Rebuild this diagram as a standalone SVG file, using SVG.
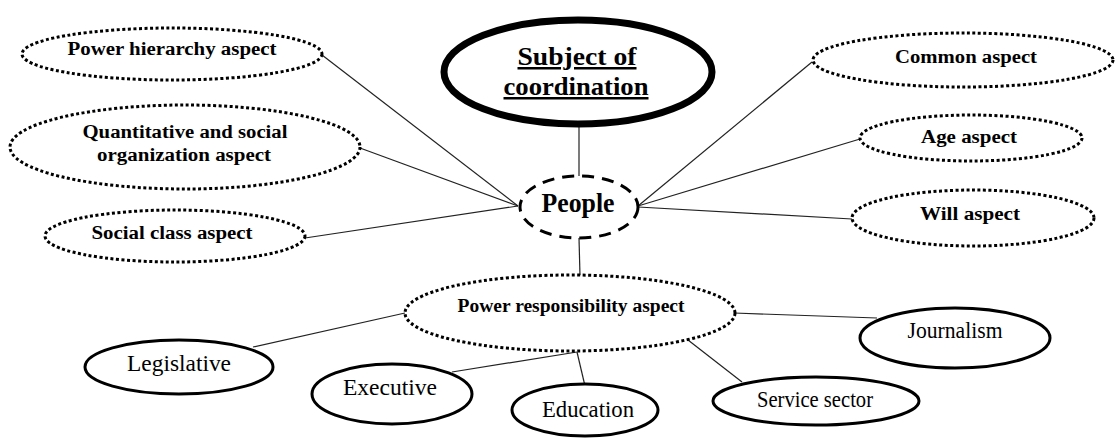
<svg xmlns="http://www.w3.org/2000/svg" width="1116" height="438" viewBox="0 0 1116 438">
<style>
.dot{fill:#fff;stroke:#000;stroke-width:3;stroke-dasharray:3 2.5}
.solid{fill:#fff;stroke:#000;stroke-width:3}
.dash{fill:#fff;stroke:#000;stroke-width:3;stroke-dasharray:12 8}
.thick{fill:#fff;stroke:#000;stroke-width:7}
text{fill:#000;text-anchor:middle;font-family:'Liberation Serif','DejaVu Serif Condensed','DejaVu Serif',serif;font-stretch:condensed}
.b{font-weight:bold;font-size:18.5px}
.r{font-size:23px}
.big{font-size:25px;text-decoration:underline}
.ppl{font-size:28px}
.conn line{stroke:#222;stroke-width:1.2}
</style>
<g id="connectors" class="conn">
<line x1="322" y1="55" x2="518" y2="206"/>
<line x1="360" y1="148" x2="518" y2="206"/>
<line x1="305" y1="238" x2="518" y2="206"/>
<line x1="812" y1="62" x2="638" y2="206"/>
<line x1="860" y1="139" x2="638" y2="206"/>
<line x1="852" y1="219" x2="638" y2="207"/>
<line x1="579" y1="125" x2="579" y2="176"/>
<line x1="579" y1="238" x2="580" y2="276"/>
<line x1="405" y1="313" x2="253" y2="347"/>
<line x1="452" y1="372" x2="577" y2="352"/>
<line x1="577" y1="352" x2="585" y2="386"/>
<line x1="688" y1="340" x2="742" y2="382"/>
<line x1="734" y1="313" x2="877" y2="318"/>
</g>
<g id="power-hierarchy">
<ellipse class="dot" cx="172" cy="54" rx="150" ry="26"/>
<text class="b" x="172" y="55" textLength="209" lengthAdjust="spacingAndGlyphs">Power hierarchy aspect</text>
</g>
<g id="quantitative">
<ellipse class="dot" cx="185" cy="147" rx="175" ry="42"/>
<text class="b" x="185" y="138" textLength="205" lengthAdjust="spacingAndGlyphs">Quantitative and social</text>
<text class="b" x="184" y="161" textLength="174" lengthAdjust="spacingAndGlyphs">organization aspect</text>
</g>
<g id="social-class">
<ellipse class="dot" cx="175" cy="236" rx="130" ry="26"/>
<text class="b" x="172" y="239" textLength="161" lengthAdjust="spacingAndGlyphs">Social class aspect</text>
</g>
<g id="subject">
<ellipse class="thick" cx="578" cy="72" rx="134" ry="52"/>
<text class="b big" x="577" y="65" textLength="119" lengthAdjust="spacingAndGlyphs">Subject of</text>
<text class="b big" x="576" y="95" textLength="145" lengthAdjust="spacingAndGlyphs">coordination</text>
</g>
<g id="common">
<ellipse class="dot" cx="963" cy="60" rx="150" ry="27"/>
<text class="b" x="966" y="63" textLength="142" lengthAdjust="spacingAndGlyphs">Common aspect</text>
</g>
<g id="age">
<ellipse class="dot" cx="971" cy="138" rx="111" ry="23"/>
<text class="b" x="969" y="143" textLength="96" lengthAdjust="spacingAndGlyphs">Age aspect</text>
</g>
<g id="will">
<ellipse class="dot" cx="973" cy="218" rx="121" ry="28"/>
<text class="b" x="970" y="220" textLength="100" lengthAdjust="spacingAndGlyphs">Will aspect</text>
</g>
<g id="people">
<ellipse class="dash" cx="579" cy="207" rx="59" ry="31"/>
<text class="b ppl" x="578" y="212" textLength="73" lengthAdjust="spacingAndGlyphs">People</text>
</g>
<g id="power-responsibility">
<ellipse class="dot" cx="570" cy="313" rx="165" ry="38"/>
<text class="b" x="571" y="312" textLength="227" lengthAdjust="spacingAndGlyphs">Power responsibility aspect</text>
</g>
<g id="legislative">
<ellipse class="solid" cx="179" cy="367" rx="94" ry="27"/>
<text class="r" x="179" y="371" textLength="104" lengthAdjust="spacingAndGlyphs">Legislative</text>
</g>
<g id="executive">
<ellipse class="solid" cx="392" cy="394" rx="80" ry="30"/>
<text class="r" x="390" y="395" textLength="94" lengthAdjust="spacingAndGlyphs">Executive</text>
</g>
<g id="education">
<ellipse class="solid" cx="585" cy="410" rx="73" ry="26"/>
<text class="r" x="588" y="417" textLength="92" lengthAdjust="spacingAndGlyphs">Education</text>
</g>
<g id="service">
<ellipse class="solid" cx="816" cy="401" rx="103" ry="24"/>
<text class="r" x="815" y="407" textLength="116" lengthAdjust="spacingAndGlyphs">Service sector</text>
</g>
<g id="journalism">
<ellipse class="solid" cx="955" cy="338" rx="95" ry="30"/>
<text class="r" x="955" y="338" textLength="95" lengthAdjust="spacingAndGlyphs">Journalism</text>
</g>
</svg>
